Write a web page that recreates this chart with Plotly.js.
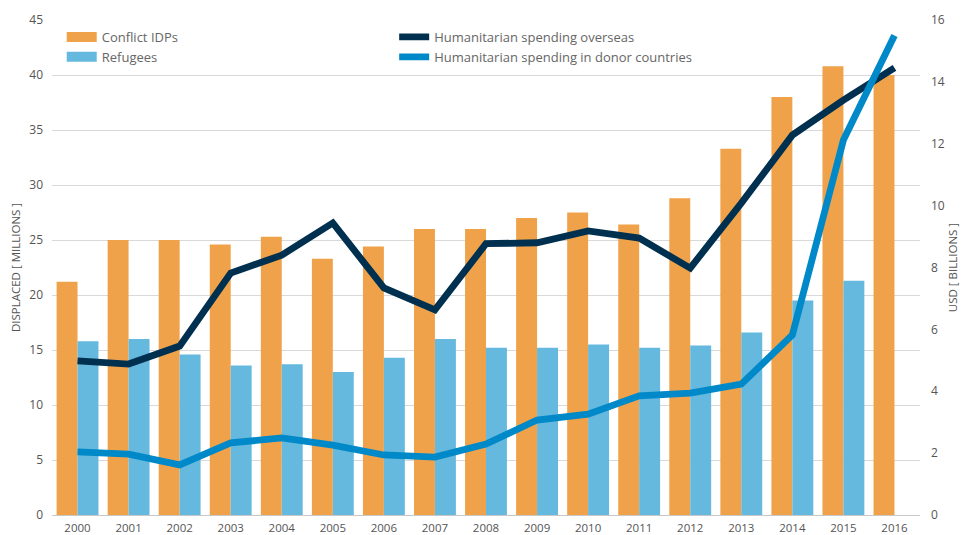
<!DOCTYPE html>
<html>
<head>
<meta charset="utf-8">
<script src="https://cdn.plot.ly/plotly-3.0.1.min.js"></script>
<style>html,body{margin:0;padding:0;background:#fff;}#chart{width:962px;height:535px;}</style>
</head>
<body>
<div id="chart"></div>
<script>
const years = ["2000","2001","2002","2003","2004","2005","2006","2007","2008","2009","2010","2011","2012","2013","2014","2015","2016"];
const conflictIDPs = [21.2,25.0,25.0,24.6,25.3,23.3,24.4,26.0,26.0,27.0,27.5,26.4,28.8,33.3,38.0,40.8,40.0];
const refugees = [15.8,16.0,14.6,13.6,13.7,13.0,14.3,16.0,15.2,15.2,15.5,15.2,15.4,16.6,19.5,21.3,null];
const spendingOverseas = [4.98,4.88,5.46,7.82,8.4,9.44,7.34,6.63,8.77,8.8,9.18,8.95,7.98,10.08,12.28,13.41,14.45];
const spendingDonor = [2.04,1.97,1.62,2.33,2.49,2.26,1.94,1.87,2.29,3.07,3.26,3.85,3.94,4.23,5.82,12.12,15.5];

const orange = "#F0A24A", lightBlue = "#65B8DE", navy = "#003050", blue = "#0089C9";
const font = {family: "Open Sans, sans-serif", color: "#666", size: 12};

const data = [
  {type: "bar", x: years, y: conflictIDPs, name: "Conflict IDPs", marker: {color: orange}, showlegend: false, hoverinfo: "skip"},
  {type: "bar", x: years, y: refugees, name: "Refugees", marker: {color: lightBlue}, showlegend: false, hoverinfo: "skip"},
  // legend-only entries giving the bars a wide rectangular key
  {type: "scatter", mode: "lines", x: [null], y: [null], name: "Conflict IDPs", line: {color: orange, width: 10}, legend: "legend", showlegend: true, hoverinfo: "skip"},
  {type: "scatter", mode: "lines", x: [null], y: [null], name: "Refugees", line: {color: lightBlue, width: 10}, legend: "legend", showlegend: true, hoverinfo: "skip"},
  {type: "scatter", mode: "lines", x: years, y: spendingOverseas, yaxis: "y2", name: "Humanitarian spending overseas", line: {color: navy, width: 6.8}, legend: "legend2"},
  {type: "scatter", mode: "lines", x: years, y: spendingDonor, yaxis: "y2", name: "Humanitarian spending in donor countries", line: {color: blue, width: 6.8}, legend: "legend2"}
];

const layout = {
  width: 962, height: 535,
  margin: {l: 52, r: 42, t: 20, b: 20},
  paper_bgcolor: "#fff", plot_bgcolor: "#fff",
  font: font,
  barmode: "group", bargap: 0.18, bargroupgap: 0,
  showlegend: true,
  xaxis: {type: "category", range: [-0.5, 16.5], showgrid: false, zeroline: false, showline: false,
          ticks: "", tickfont: {size: 11.5, color: "#555"}, ticklabelstandoff: 4, fixedrange: true},
  yaxis: {range: [0, 45], dtick: 5, showgrid: true, gridcolor: "#d9d9d9", gridwidth: 1, zeroline: true, zerolinecolor: "#c8c8c8",
          ticks: "", tickfont: {size: 12, color: "#555"}, ticklabelstandoff: 8,
          title: {text: "DISPLACED [ MILLIONS ]", font: {size: 11.5, color: "#555"}, standoff: 6}},
  yaxis2: {range: [0, 16], dtick: 2, overlaying: "y", side: "right", showgrid: false, zeroline: false,
           ticks: "", tickfont: {size: 12, color: "#555"}, ticklabelstandoff: 10,
           title: {text: "USD [ BILLIONS ]", font: {size: 11.5, color: "#555"}, standoff: 5}},
  legend: {x: 0.0112, y: 0.996, xanchor: "left", yanchor: "top", bgcolor: "rgba(0,0,0,0)",
           font: {size: 13, color: "#666"}, tracegroupgap: 0, itemwidth: 30},
  legend2: {x: 0.3942, y: 0.996, xanchor: "left", yanchor: "top", bgcolor: "rgba(0,0,0,0)",
            font: {size: 13, color: "#666"}, tracegroupgap: 0, itemwidth: 30}
};

Plotly.newPlot("chart", data, layout, {displayModeBar: false, staticPlot: true});
</script>
</body>
</html>
